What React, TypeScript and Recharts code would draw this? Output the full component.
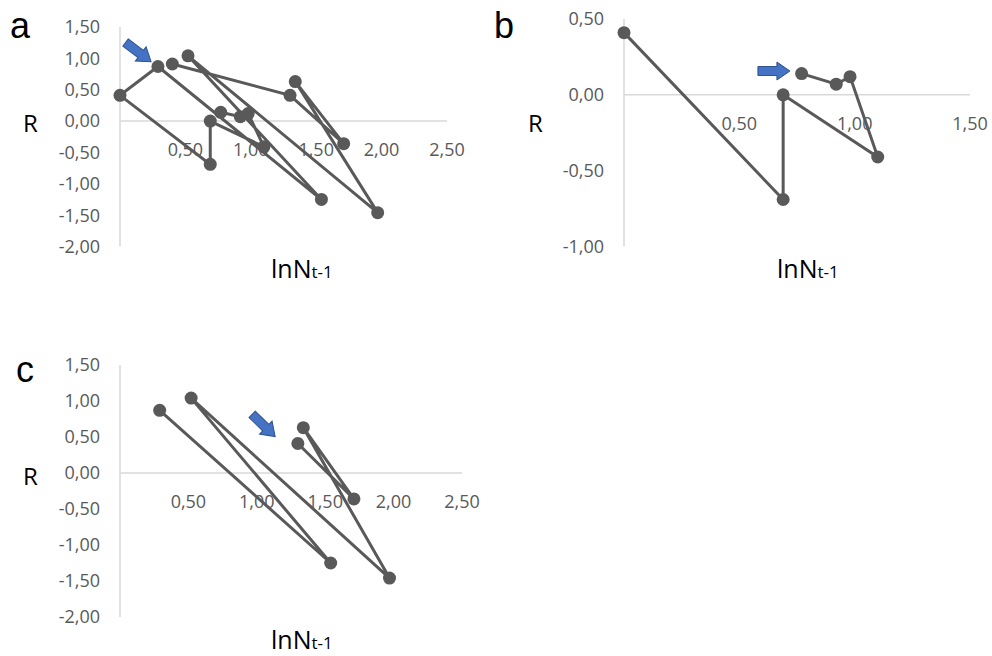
import { ScatterChart, Scatter, XAxis, YAxis, ReferenceLine, ReferenceDot } from "recharts";

// panel a: whole series (lnN t-1, R)
const lnA = [0.77, 0.92, 0.98, 1.1, 0.69, 0.69, 0.0, 0.29, 1.54, 0.52, 1.97, 1.34, 1.71, 1.3, 0.4];
const rA = [0.14, 0.07, 0.12, -0.41, 0.0, -0.69, 0.41, 0.87, -1.25, 1.04, -1.46, 0.63, -0.36, 0.41, 0.91];

// panel b: first period
const lnB = [0.77, 0.92, 0.98, 1.1, 0.69, 0.69, 0.0];
const rB = [0.14, 0.07, 0.12, -0.41, 0.0, -0.69, 0.41];

// panel c: second period
const lnC = [1.3, 1.71, 1.34, 1.97, 0.52, 1.54, 0.29];
const rC = [0.41, -0.36, 0.63, -1.46, 1.04, -1.25, 0.87];

const xTicksWide = [0.5, 1, 1.5, 2, 2.5];
const yTicksWide = [-2, -1.5, -1, -0.5, 0, 0.5, 1, 1.5];
const xTicksB = [0.5, 1, 1.5];
const yTicksB = [-1, -0.5, 0, 0.5];

const GREY = "#595959";
const AXIS = "#d9d9d9";
const FONT = "'Open Sans', sans-serif";

const fmt = (v: number) => v.toFixed(2).replace(".", ",");
const zip = (xs: number[], ys: number[]) => xs.map((x, i) => ({ x, y: ys[i] }));

function Marker(props: any) {
  const { cx, cy } = props;
  if (cx == null || cy == null) return null;
  return <circle cx={cx} cy={cy} r={6.5} fill={GREY} />;
}

function Arrow({ cx, cy, angle }: { cx: number; cy: number; angle: number }) {
  const L = 32;
  const h = 13;
  const hw = 9;
  const bw = 4.5;
  const a = -L / 2;
  const b = L / 2 - h;
  const d = `M${a},${-bw} L${b},${-bw} L${b},${-hw} L${L / 2},0 L${b},${hw} L${b},${bw} L${a},${bw} Z`;
  return (
    <path
      d={d}
      fill="#4472C4"
      stroke="#2F528F"
      strokeWidth={1}
      transform={`translate(${cx},${cy}) rotate(${angle})`}
    />
  );
}

interface PanelProps {
  data: { x: number; y: number }[];
  xTicks: number[];
  yTicks: number[];
  xMax: number;
  yDomain: [number, number];
  width: number;
  height: number;
  margin: { top: number; right: number; bottom: number; left: number };
  yAxisWidth: number;
  arrow: { x: number; y: number; angle: number };
}

function Panel({ data, xTicks, yTicks, xMax, yDomain, width, height, margin, yAxisWidth, arrow }: PanelProps) {
  return (
    <ScatterChart width={width} height={height} margin={margin}>
      <XAxis type="number" dataKey="x" domain={[0, xMax]} hide />
      <YAxis
        type="number"
        dataKey="y"
        domain={yDomain}
        ticks={yTicks}
        interval={0}
        width={yAxisWidth}
        tickFormatter={fmt}
        tickLine={false}
        tickSize={0}
        tickMargin={20}
        axisLine={{ stroke: AXIS, strokeWidth: 1.5 }}
        tick={{ fill: GREY, fontSize: 18, fontFamily: FONT }}
      />
      <ReferenceLine y={0} stroke={AXIS} strokeWidth={1.5} />
      {xTicks.map((t) => (
        <ReferenceDot
          key={t}
          x={t}
          y={0}
          r={0}
          fill="none"
          stroke="none"
          label={{ value: fmt(t), position: "bottom", offset: 22, fill: GREY, fontSize: 18, fontFamily: FONT }}
        />
      ))}
      <Scatter
        data={data}
        fill={GREY}
        line={{ stroke: GREY, strokeWidth: 3 }}
        shape={<Marker />}
        isAnimationActive={false}
      />
      <ReferenceDot
        x={arrow.x}
        y={arrow.y}
        r={1}
        shape={(p: any) => <Arrow cx={p.cx} cy={p.cy} angle={arrow.angle} />}
      />
    </ScatterChart>
  );
}

function Title({ x, y, letter }: { x: number; y: number; letter: string }) {
  return (
    <text x={x} y={y} fontFamily="'Liberation Sans', Arial, sans-serif" fontSize={36} fill="#000">
      {letter}
    </text>
  );
}

function AxisTitles({ rx, ry, nx, ny }: { rx: number; ry: number; nx: number; ny: number }) {
  return (
    <g fontFamily={FONT} fill="#000">
      <text x={rx} y={ry} fontSize={24}>R</text>
      <text x={nx} y={ny} fontSize={25}>
        lnN<tspan fontSize={17}>t-1</tspan>
      </text>
    </g>
  );
}

export default function App() {
  return (
    <div style={{ position: "absolute", left: 0, top: 0, width: 992, height: 656, background: "#fff" }}>
      <div style={{ position: "absolute", left: 0, top: 0 }}>
        <Panel
          data={zip(lnA, rA)}
          xTicks={xTicksWide}
          yTicks={yTicksWide}
          xMax={2.5}
          yDomain={[-2, 1.5]}
          width={480}
          height={290}
          margin={{ top: 27, right: 33, bottom: 43.5, left: 0 }}
          yAxisWidth={120}
          arrow={{ x: 0.14, y: 1.1, angle: 37 }}
        />
      </div>
      <div style={{ position: "absolute", left: 490, top: 0 }}>
        <Panel
          data={zip(lnB, rB)}
          xTicks={xTicksB}
          yTicks={yTicksB}
          xMax={1.5}
          yDomain={[-1, 0.5]}
          width={500}
          height={290}
          margin={{ top: 19, right: 20, bottom: 43.5, left: 0 }}
          yAxisWidth={134}
          arrow={{ x: 0.65, y: 0.157, angle: 0 }}
        />
      </div>
      <div style={{ position: "absolute", left: 0, top: 340 }}>
        <Panel
          data={zip(lnC, rC)}
          xTicks={xTicksWide}
          yTicks={yTicksWide}
          xMax={2.5}
          yDomain={[-2, 1.5]}
          width={480}
          height={316}
          margin={{ top: 25, right: 18, bottom: 39, left: 0 }}
          yAxisWidth={120}
          arrow={{ x: 1.05, y: 0.66, angle: 44 }}
        />
      </div>
      <svg
        width={992}
        height={656}
        style={{ position: "absolute", left: 0, top: 0, pointerEvents: "none" }}
      >
        <Title x={10} y={38} letter="a" />
        <Title x={494} y={38} letter="b" />
        <Title x={16} y={382} letter="c" />
        <AxisTitles rx={23} ry={132} nx={271} ny={278} />
        <AxisTitles rx={528} ry={132} nx={777} ny={278} />
        <AxisTitles rx={23} ry={485} nx={271} ny={649} />
      </svg>
    </div>
  );
}
